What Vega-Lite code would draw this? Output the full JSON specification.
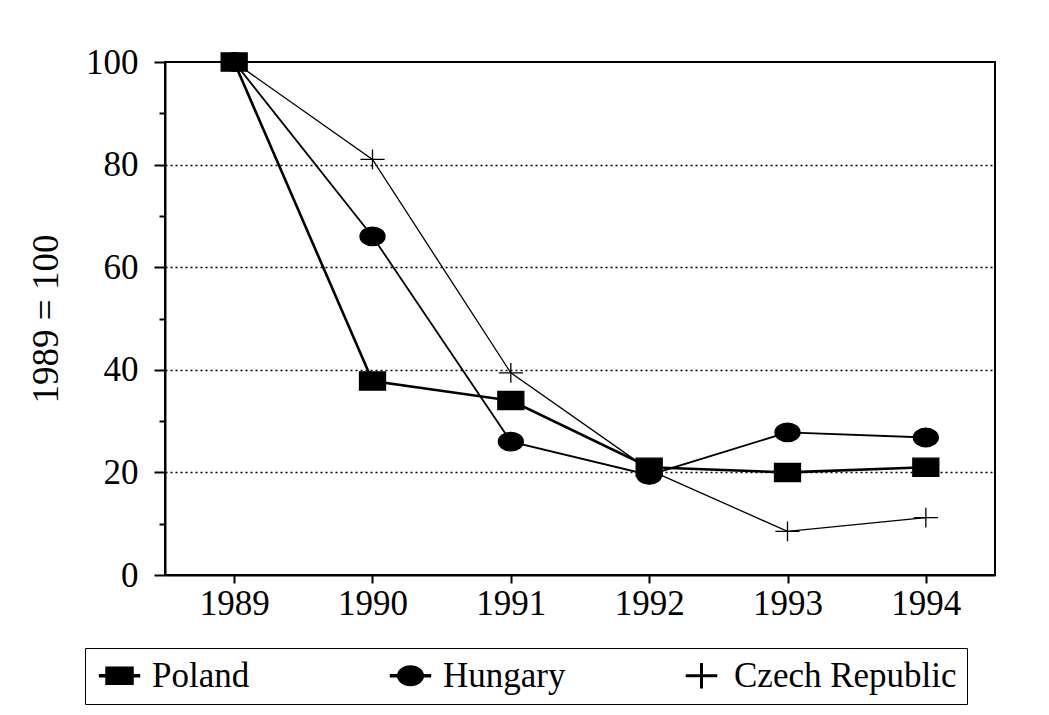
{
  "$schema": "https://vega.github.io/schema/vega-lite/v6.json",
  "width": 830,
  "height": 513,
  "autosize": {"type": "none"},
  "padding": {"left": 165, "top": 62, "right": 54, "bottom": 140},
  "background": "white",
  "config": {
    "font": "Liberation Serif",
    "view": {"stroke": "black", "strokeWidth": 2},
    "axis": {"labelFont": "Liberation Serif", "titleFont": "Liberation Serif", "labelColor": "black", "titleColor": "black", "domainColor": "black", "tickColor": "black"},
    "legend": {"labelFont": "Liberation Serif"}
  },
  "data": {
    "values": [
      {"country": "Czech Republic", "year": "1989", "value": 100},
      {"country": "Czech Republic", "year": "1990", "value": 81},
      {"country": "Czech Republic", "year": "1991", "value": 39.4},
      {"country": "Czech Republic", "year": "1992", "value": 20.5},
      {"country": "Czech Republic", "year": "1993", "value": 8.5},
      {"country": "Czech Republic", "year": "1994", "value": 11.2},
      {"country": "Hungary", "year": "1989", "value": 100},
      {"country": "Hungary", "year": "1990", "value": 66},
      {"country": "Hungary", "year": "1991", "value": 26},
      {"country": "Hungary", "year": "1992", "value": 19.5},
      {"country": "Hungary", "year": "1993", "value": 27.8},
      {"country": "Hungary", "year": "1994", "value": 26.8},
      {"country": "Poland", "year": "1989", "value": 100},
      {"country": "Poland", "year": "1990", "value": 37.8},
      {"country": "Poland", "year": "1991", "value": 34},
      {"country": "Poland", "year": "1992", "value": 21},
      {"country": "Poland", "year": "1993", "value": 20},
      {"country": "Poland", "year": "1994", "value": 21}
    ]
  },
  "encoding": {
    "x": {
      "field": "year", "type": "ordinal",
      "scale": {"type": "point", "padding": 0.5},
      "axis": {
        "title": null, "labelAngle": 0, "labelFontSize": 35, "labelPadding": 3,
        "domainWidth": 2, "tickWidth": 2, "tickSize": 8,
        "grid": false
      }
    },
    "y": {
      "field": "value", "type": "quantitative",
      "scale": {"domain": [0, 100], "nice": false},
      "axis": {
        "title": "1989 = 100", "titleFontSize": 37, "titleFontWeight": "normal", "titlePadding": 20,
        "values": [0, 10, 20, 30, 40, 50, 60, 70, 80, 90, 100],
        "labelExpr": "datum.value % 20 === 0 ? datum.label : ''",
        "labelFontSize": 35, "labelPadding": 16,
        "domainWidth": 2, "tickWidth": 2,
        "tickSize": {"condition": {"test": "datum.value % 20 === 0", "value": 11}, "value": 6},
        "grid": true, "gridColor": "black", "gridWidth": 1.6, "gridDash": [2, 3],
        "gridOpacity": {"condition": {"test": "datum.value % 20 === 0 && datum.value > 0 && datum.value < 100", "value": 1}, "value": 0}
      }
    }
  },
  "layer": [
    {
      "mark": {"type": "line", "stroke": "black"},
      "encoding": {
        "detail": {"field": "country"},
        "strokeWidth": {
          "condition": [
            {"test": "datum.country === 'Poland'", "value": 2.6},
            {"test": "datum.country === 'Hungary'", "value": 1.8}
          ],
          "value": 1.3
        }
      }
    },
    {
      "mark": {"type": "point", "filled": true, "fill": "black", "stroke": "black", "strokeWidth": 0, "size": 0},
      "encoding": {
        "shape": {
          "field": "country", "type": "nominal",
          "scale": {
            "domain": ["Poland", "Hungary", "Czech Republic"],
            "range": [
              "M-1.33,-0.07H1.33V0.07H-1.33Z M-0.9,-0.57H0.9V0.57H-0.9Z",
              "M-1.33,-0.07H1.33V0.07H-1.33Z M-0.85,0A0.85,0.65 0 1,1 0.85,0A0.85,0.65 0 1,1 -0.85,0Z",
              "M-1,-0.05H1V0.05H-1Z M-0.05,-0.8H0.05V0.8H-0.05Z"
            ]
          },
          "legend": {
            "title": null, "orient": "none", "legendX": -80, "legendY": 586,
            "direction": "horizontal", "columns": 3, "gridAlign": "all",
            "columnPadding": 11, "padding": 10, "symbolSize": 900, "symbolOffset": 7,
            "symbolOpacity": 1, "symbolFillColor": "black",
            "labelFontSize": 35, "labelOffset": 15, "labelColor": "black", "labelLimit": 400,
            "strokeColor": "black", "fillColor": "white"
          }
        }
      }
    },
    {
      "mark": {"type": "point", "stroke": "black", "strokeWidth": 1.3, "opacity": 1},
      "encoding": {
        "shape": {
          "field": "country", "type": "nominal",
          "scale": {
            "domain": ["Poland", "Hungary", "Czech Republic"],
            "range": [
              "M-1,-0.7H1V0.7H-1Z",
              "M-1,0A1,0.74 0 1,0 1,0A1,0.74 0 1,0 -1,0Z",
              "M-1.1,0H1.1M0,-0.9V0.9"
            ]
          },
          "legend": null
        },
        "fill": {
          "condition": {"test": "datum.country === 'Czech Republic'", "value": "transparent"},
          "value": "black"
        },
        "size": {
          "condition": [
            {"test": "datum.country === 'Poland'", "value": 676},
            {"test": "datum.country === 'Hungary'", "value": 625}
          ],
          "value": 484
        }
      }
    }
  ],
  "resolve": {"scale": {"shape": "independent"}, "legend": {"shape": "independent"}}
}
